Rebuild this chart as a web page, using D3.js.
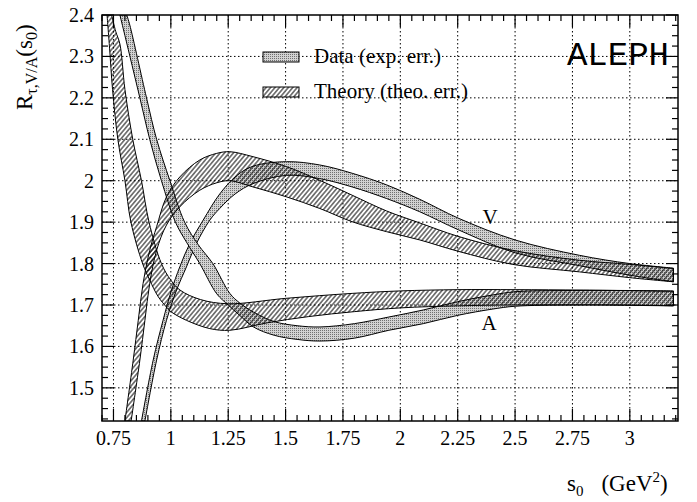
<!DOCTYPE html>
<html><head><meta charset="utf-8">
<script src="https://cdn.jsdelivr.net/npm/d3@7"></script>
<style>body{margin:0;background:#fff} svg{display:block}</style>
</head><body>
<script>
// ---------- data ----------
const xTickValues = [0.75, 1, 1.25, 1.5, 1.75, 2, 2.25, 2.5, 2.75, 3];
const xTickLabels = ["0.75", "1", "1.25", "1.5", "1.75", "2", "2.25", "2.5", "2.75", "3"];
const yTickValues = [1.5, 1.6, 1.7, 1.8, 1.9, 2.0, 2.1, 2.2, 2.3, 2.4];
const yTickLabels = ["1.5", "1.6", "1.7", "1.8", "1.9", "2", "2.1", "2.2", "2.3", "2.4"];
const legendLabels = ["Data (exp. err.)", "Theory (theo. err.)"];

// band boundaries: [s0, R] pairs (lower and upper edge of each band)
const dataV_lo = [[0.887,1.42],[0.938,1.567],[0.981,1.663],[1.025,1.736],[1.068,1.792],[1.112,1.849],[1.17,1.905],[1.213,1.933],[1.28,1.968],[1.358,1.993],[1.504,2.013],[1.649,2.005],[1.79,1.985],[1.94,1.957],[2.085,1.925],[2.255,1.881],[2.5,1.826],[2.78,1.795],[3.0,1.772],[3.19,1.756]];
const dataV_hi = [[0.872,1.42],[0.923,1.567],[0.966,1.663],[1.003,1.736],[1.039,1.792],[1.083,1.849],[1.141,1.905],[1.213,1.968],[1.286,2.012],[1.358,2.035],[1.504,2.046],[1.649,2.038],[1.79,2.018],[1.94,1.99],[2.085,1.955],[2.255,1.909],[2.5,1.857],[2.78,1.82],[3.0,1.80],[3.19,1.789]];
const theoV_lo = [[0.827,1.42],[0.865,1.567],[0.887,1.663],[0.908,1.752],[0.938,1.832],[0.981,1.893],[1.039,1.937],[1.126,1.977],[1.2,1.995],[1.257,2.0],[1.358,1.985],[1.504,1.961],[1.649,1.933],[1.79,1.901],[1.94,1.877],[2.085,1.857],[2.25,1.83],[2.49,1.798],[2.78,1.78],[3.0,1.766],[3.19,1.756]];
const theoV_hi = [[0.80,1.42],[0.836,1.567],[0.858,1.663],[0.879,1.752],[0.908,1.832],[0.938,1.889],[0.981,1.961],[1.039,2.009],[1.126,2.05],[1.2,2.066],[1.257,2.07],[1.358,2.058],[1.504,2.034],[1.649,2.001],[1.79,1.965],[1.94,1.927],[2.085,1.898],[2.25,1.866],[2.49,1.832],[2.78,1.808],[3.0,1.798],[3.19,1.788]];
const dataA_lo = [[0.778,2.40],[0.80,2.35],[0.865,2.20],[0.908,2.10],[0.959,2.00],[1.02,1.90],[1.07,1.85],[1.126,1.80],[1.2,1.727],[1.25,1.70],[1.3,1.675],[1.36,1.647],[1.45,1.627],[1.55,1.617],[1.65,1.613],[1.8,1.62],[1.95,1.639],[2.1,1.655],[2.25,1.675],[2.4,1.69],[2.5,1.697],[2.75,1.70],[3.0,1.70],[3.19,1.698]];
const dataA_hi = [[0.808,2.40],[0.821,2.376],[0.894,2.20],[0.938,2.10],[0.996,2.00],[1.06,1.90],[1.12,1.845],[1.183,1.80],[1.257,1.728],[1.3,1.705],[1.36,1.683],[1.45,1.66],[1.55,1.65],[1.65,1.647],[1.8,1.655],[1.95,1.671],[2.1,1.688],[2.25,1.708],[2.4,1.724],[2.5,1.732],[2.75,1.735],[3.0,1.735],[3.19,1.734]];
const theoA_lo = [[0.722,2.40],[0.733,2.32],[0.746,2.22],[0.769,2.10],[0.80,2.00],[0.826,1.90],[0.877,1.80],[0.908,1.76],[0.945,1.72],[0.981,1.695],[1.0,1.684],[1.068,1.663],[1.17,1.643],[1.257,1.639],[1.42,1.657],[1.6,1.672],[1.8,1.684],[2.0,1.693],[2.25,1.698],[2.5,1.70],[2.8,1.70],[3.19,1.698]];
const theoA_hi = [[0.742,2.40],[0.76,2.36],[0.778,2.33],[0.80,2.22],[0.834,2.10],[0.872,2.00],[0.905,1.90],[0.959,1.80],[1.0,1.76],[1.04,1.736],[1.13,1.713],[1.25,1.703],[1.5,1.716],[1.79,1.728],[2.0,1.734],[2.25,1.737],[2.5,1.737],[2.8,1.736],[3.19,1.733]];

// ---------- layout ----------
const W = 697, H = 502;
const L = 102, R = 678, T = 15, B = 421;
const x = d3.scaleLinear().domain([0.7, 3.21]).range([L, R]);
const y = d3.scaleLinear().domain([1.42, 2.4]).range([B, T]);
const serif = "'Liberation Serif','Times New Roman',serif";

const svg = d3.select("body").append("svg").attr("width", W).attr("height", H);
const defs = svg.append("defs");
const stip = defs.append("pattern").attr("id", "stip").attr("patternUnits", "userSpaceOnUse")
  .attr("width", 2).attr("height", 2);
stip.append("rect").attr("width", 2).attr("height", 2).attr("fill", "#d2d2d2");
stip.append("rect").attr("width", 1).attr("height", 1).attr("fill", "#707070");
const hatch = defs.append("pattern").attr("id", "hatch").attr("patternUnits", "userSpaceOnUse")
  .attr("width", 3.4).attr("height", 3.4).attr("patternTransform", "rotate(40)");
hatch.append("line").attr("x1", 1.7).attr("x2", 1.7).attr("y1", -1).attr("y2", 4.4)
  .attr("stroke", "#000").attr("stroke-width", 0.95);
defs.append("clipPath").attr("id", "plotclip").append("rect")
  .attr("x", L).attr("y", T).attr("width", R - L).attr("height", B - T);

// grid
const grid = svg.append("g").attr("stroke", "#000").attr("stroke-width", 1).attr("stroke-dasharray", "1.5,2.5");
grid.selectAll("line.gx").data(xTickValues).join("line").attr("class","gx")
  .attr("x1", d => x(d)).attr("x2", d => x(d)).attr("y1", T).attr("y2", B);
grid.selectAll("line.gy").data(yTickValues.filter(v => v < 2.4)).join("line").attr("class","gy")
  .attr("y1", d => y(d)).attr("y2", d => y(d)).attr("x1", L).attr("x2", R);

// bands
const line = d3.line().x(d => x(d[0])).y(d => y(d[1])).curve(d3.curveCatmullRom.alpha(0.5));
function bandPath(lo, hi) {
  const a = line(lo);
  const b = line(hi.slice().reverse()).replace(/^M/, "L");
  return a + b + "Z";
}
const bands = svg.append("g").attr("clip-path", "url(#plotclip)");
[[dataV_lo, dataV_hi], [dataA_lo, dataA_hi]].forEach(([lo, hi]) => {
  bands.append("path").attr("d", bandPath(lo, hi)).attr("fill", "url(#stip)")
    .attr("stroke", "#000").attr("stroke-width", 1);
});
[[theoV_lo, theoV_hi], [theoA_lo, theoA_hi]].forEach(([lo, hi]) => {
  bands.append("path").attr("d", bandPath(lo, hi)).attr("fill", "url(#hatch)")
    .attr("stroke", "#000").attr("stroke-width", 1);
});

// frame + ticks
const ax = svg.append("g").attr("stroke", "#000").attr("stroke-width", 1.2);
ax.append("rect").attr("x", L).attr("y", T).attr("width", R - L).attr("height", B - T)
  .attr("fill", "none").attr("stroke-width", 1.5);
const xMinor = d3.range(0, 51).map(i => +(0.7 + i * 0.05).toFixed(2)).filter(v => v <= 3.21);
const yMinor = d3.range(0, 40).map(i => +(1.425 + i * 0.025).toFixed(3)).filter(v => v <= 2.4);
const isMajX = v => xTickValues.some(t => Math.abs(t - v) < 1e-6);
const isMajY = v => yTickValues.some(t => Math.abs(t - v) < 1e-6);
xMinor.forEach(v => {
  const len = isMajX(v) ? 12 : 6;
  ax.append("line").attr("x1", x(v)).attr("x2", x(v)).attr("y1", B).attr("y2", B - len);
  ax.append("line").attr("x1", x(v)).attr("x2", x(v)).attr("y1", T).attr("y2", T + len);
});
yMinor.forEach(v => {
  const len = isMajY(v) ? 12 : 6;
  ax.append("line").attr("y1", y(v)).attr("y2", y(v)).attr("x1", L).attr("x2", L + len);
  ax.append("line").attr("y1", y(v)).attr("y2", y(v)).attr("x1", R).attr("x2", R - len);
});

// tick labels
const tl = svg.append("g").attr("font-family", serif).attr("font-size", 20).attr("fill", "#000");
tl.selectAll("text.xl").data(xTickValues).join("text").attr("class", "xl")
  .attr("x", d => x(d)).attr("y", 445).attr("text-anchor", "middle")
  .text((d, i) => xTickLabels[i]);
tl.selectAll("text.yl").data(yTickValues).join("text").attr("class", "yl")
  .attr("x", 94).attr("y", d => y(d) + 7).attr("text-anchor", "end")
  .text((d, i) => yTickLabels[i]);

// axis titles
const yt = svg.append("text").attr("font-family", serif).attr("font-size", 23)
  .attr("transform", "translate(32,110) rotate(-90)").attr("text-anchor", "start");
yt.append("tspan").text("R");
yt.append("tspan").attr("dy", 5).attr("font-size", 16).text("τ,V/A");
yt.append("tspan").attr("dy", -5).text("(s");
yt.append("tspan").attr("dy", 5).attr("font-size", 16).text("0");
yt.append("tspan").attr("dy", -5).text(")");

const xt = svg.append("text").attr("font-family", serif).attr("font-size", 23)
  .attr("x", 567).attr("y", 491);
xt.append("tspan").text("s");
xt.append("tspan").attr("dy", 5).attr("font-size", 15).text("0");
xt.append("tspan").attr("dy", -5).attr("dx", 18).text("(GeV");
xt.append("tspan").attr("dy", -9).attr("font-size", 15).text("2");
xt.append("tspan").attr("dy", 9).text(")");

// legend
const lg = svg.append("g");
[["url(#stip)", 52], ["url(#hatch)", 87]].forEach(([f, yy], i) => {
  lg.append("rect").attr("x", 263).attr("y", yy).attr("width", 36).attr("height", 10)
    .attr("fill", "#fff").attr("stroke", "none");
  lg.append("rect").attr("x", 263).attr("y", yy).attr("width", 36).attr("height", 10)
    .attr("fill", f).attr("stroke", "#000").attr("stroke-width", 1);
  lg.append("text").attr("x", 314).attr("y", yy + 11).attr("font-family", serif)
    .attr("font-size", 21).text(legendLabels[i]);
});

// annotations
svg.append("text").attr("x", 669).attr("y", 65).attr("text-anchor", "end")
  .attr("font-family", "'Liberation Mono','Courier New',monospace").attr("font-size", 34).text("ALEPH");
svg.append("text").attr("x", 490).attr("y", 224).attr("text-anchor", "middle")
  .attr("font-family", serif).attr("font-size", 21).text("V");
svg.append("text").attr("x", 489).attr("y", 330).attr("text-anchor", "middle")
  .attr("font-family", serif).attr("font-size", 21).text("A");
</script>
</body></html>
